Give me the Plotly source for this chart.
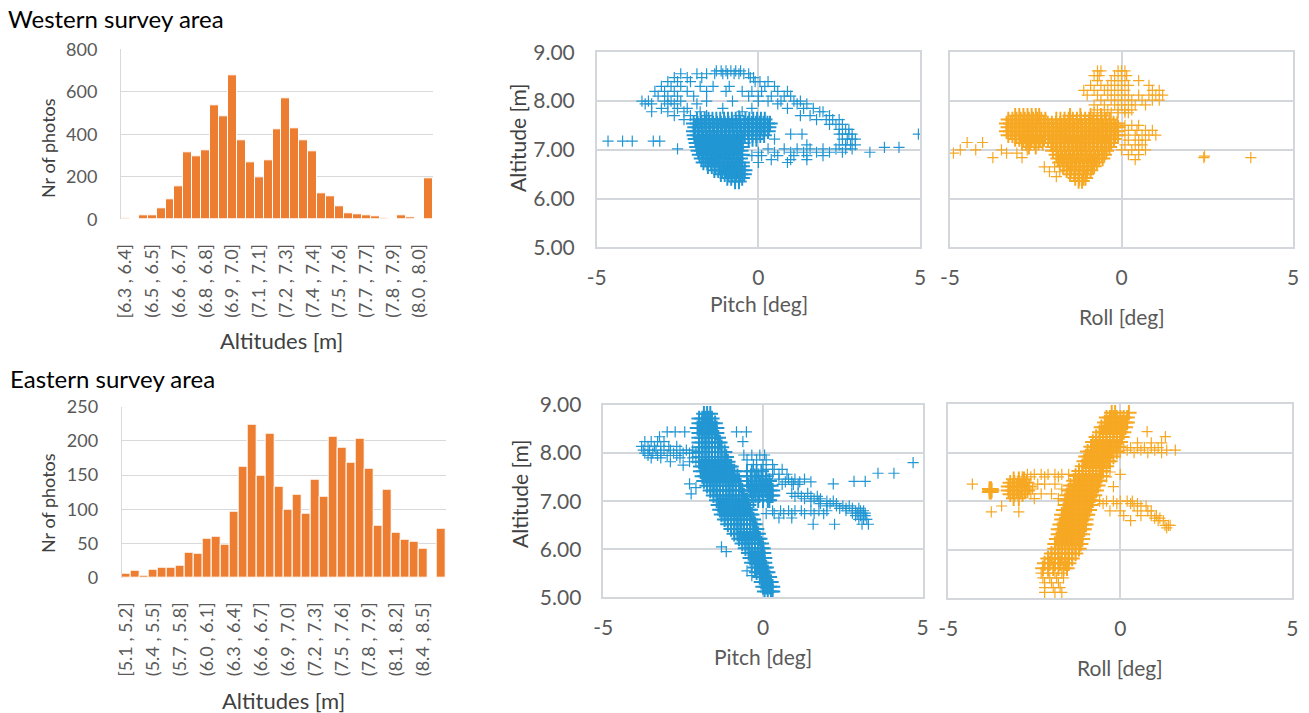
import plotly.graph_objects as go

W, H = 1309, 713
FONT = "Lato"

# ---------------- Histogram data ----------------
west_counts = [5, 1, 17, 17, 50, 94, 154, 315, 295, 326, 536, 483, 676, 372, 267, 199, 278, 424,
               569, 428, 372, 320, 122, 107, 63, 28, 24, 17, 16, 6, 1, 20, 9, 0, 193]
west_ticklabels = ["[6.3 , 6.4]", "(6.5 , 6.5]", "(6.6 , 6.7]", "(6.8 , 6.8]", "(6.9 , 7.0]", "(7.1 , 7.1]",
                   "(7.2 , 7.3]", "(7.4 , 7.4]", "(7.5 , 7.6]", "(7.7 , 7.7]", "(7.8 , 7.9]", "(8.0 , 8.0]"]
east_counts = [6, 10, 3, 12, 15, 14, 18, 37, 35, 57, 60, 48, 96, 163, 223, 149, 211, 133, 99, 121, 93,
               144, 118, 206, 190, 168, 203, 159, 76, 128, 66, 55, 52, 42, 0, 71]
east_ticklabels = ["[5.1 , 5.2]", "(5.4 , 5.5]", "(5.7 , 5.8]", "(6.0 , 6.1]", "(6.3 , 6.4]", "(6.6 , 6.7]",
                   "(6.9 , 7.0]", "(7.2 , 7.3]", "(7.5 , 7.6]", "(7.8 , 7.9]", "(8.1 , 8.2]", "(8.4 , 8.5]"]
angle_ticks = [-5, 0, 5]
angle_ticklabels = ["-5", "0", "5"]

# ---------------- Scatter data: rows of (altitude, [angles]) ----------------
west_pitch_sparse = [
    (8.62, [-1.3, -1.15, -1.0, -0.85, -0.7, -0.55]),
    (8.56, [-2.4, -1.9, -1.6, -1.35, -1.1, -0.95, -0.75, -0.6, -0.45, -0.3]),
    (8.48, [-2.6, -2.2, -1.75, -0.25, -0.15]),
    (8.40, [-2.8, -2.5, -2.1, -0.1, 0.05, 0.3]),
    (8.30, [-3.0, -2.7, -2.4, -1.8, -1.4, -0.9, 0.2, 0.5]),
    (8.20, [-3.2, -2.9, -2.6, -2.2, -1.6, -1.0, -0.5, -0.2, 0.1, 0.6, 0.9]),
    (8.10, [-3.1, -2.8, -2.5, -2.0, -0.3, 0.0, 0.4, 0.8, 1.0]),
    (8.00, [-3.6, -3.4, -2.9, -2.7, -2.4, -1.6, -0.8, 0.0, 0.3, 0.7, 1.1, 1.3]),
    (7.94, [-3.5, -3.3, -2.8, -2.6, -1.9, 0.6, 1.2, 1.5]),
    (7.85, [-3.0, -2.5, -2.2, -1.1, -0.2, 0.9, 1.4, 1.7]),
    (7.78, [-3.3, -2.8, -2.3, -1.8, -0.5, 1.9, 2.0]),
    (7.70, [-2.6, -2.1, -1.6, -0.6, 1.3, 1.6, 2.2]),
    (7.62, [-2.3, 1.8, 2.1, 2.3, 2.5]),
    (7.52, [2.2, 2.4, 2.6]),
    (7.42, [2.5, 2.7, 2.8]),
    (7.32, [1.0, 1.35, 2.5, 2.6, 2.8, 2.9, 4.95]),
    (7.22, [0.5, 2.6, 2.75, 2.9, 3.0]),
    (7.18, [-4.65, -4.2, -3.9, -3.25, -3.05]),
    (7.10, [1.5, 2.5, 2.7, 2.85, 3.0]),
    (7.05, [3.9, 4.35]),
    (7.02, [-2.5, 0.3, 0.8, 1.2, 1.6, 2.0, 2.4, 2.7, 2.9]),
    (6.95, [0.0, 0.5, 1.0, 1.4, 1.8, 2.2, 2.6, 3.45]),
    (6.88, [-0.2, 0.1, 0.6, 1.1, 1.5, 2.0]),
    (6.80, [0.4, 1.0, 1.5]),
    (6.74, [0.0, 0.9]),
]
west_pitch_dense = [
    (7.62, [-1.9, -1.78, -1.66, -1.54, -1.42, -1.3, -1.18, -1.06, -0.94, -0.82, -0.7, -0.58, -0.4, -0.28, -0.16, -0.04, 0.08, 0.2]),
    (7.54, [-2.0, -1.88, -1.76, -1.64, -1.52, -1.4, -1.28, -1.16, -1.04, -0.92, -0.8, -0.68, -0.56, -0.44, -0.32, -0.2, -0.08, 0.04, 0.16, 0.28, 0.36]),
    (7.46, [-1.96, -1.84, -1.72, -1.6, -1.48, -1.36, -1.24, -1.12, -1.0, -0.88, -0.76, -0.64, -0.52, -0.4, -0.28, -0.16, -0.04, 0.08, 0.2, 0.32]),
    (7.38, [-2.0, -1.88, -1.76, -1.64, -1.52, -1.4, -1.28, -1.16, -1.04, -0.92, -0.8, -0.68, -0.56, -0.44, -0.32, -0.2, -0.08, 0.04, 0.16, 0.3]),
    (7.30, [-1.98, -1.86, -1.74, -1.62, -1.5, -1.38, -1.26, -1.14, -1.02, -0.9, -0.78, -0.66, -0.54, -0.42, -0.3, -0.18, -0.06, 0.06, 0.18]),
    (7.22, [-1.95, -1.83, -1.71, -1.59, -1.47, -1.35, -1.23, -1.11, -0.99, -0.87, -0.75, -0.63, -0.51, -0.3, -0.18, -0.06]),
    (7.14, [-1.92, -1.8, -1.68, -1.56, -1.44, -1.32, -1.2, -1.08, -0.96, -0.84, -0.72, -0.6, -0.48]),
    (7.06, [-1.9, -1.78, -1.66, -1.54, -1.42, -1.3, -1.18, -1.06, -0.94, -0.82, -0.7, -0.58, -0.5]),
    (6.98, [-1.86, -1.74, -1.62, -1.5, -1.38, -1.26, -1.14, -1.02, -0.9, -0.78, -0.66, -0.54]),
    (6.90, [-1.82, -1.7, -1.58, -1.46, -1.34, -1.22, -1.1, -0.98, -0.86, -0.74, -0.62, -0.5]),
    (6.82, [-1.76, -1.64, -1.52, -1.4, -1.28, -1.16, -1.04, -0.92, -0.8, -0.68, -0.56]),
    (6.74, [-1.7, -1.58, -1.46, -1.34, -1.22, -1.1, -0.98, -0.86, -0.74, -0.62, -0.5]),
    (6.66, [-1.56, -1.44, -1.32, -1.2, -1.08, -0.96, -0.84, -0.72, -0.6, -0.5]),
    (6.58, [-1.36, -1.24, -1.12, -1.0, -0.88, -0.76, -0.64, -0.52, -0.42]),
    (6.50, [-1.16, -1.04, -0.92, -0.8, -0.68, -0.56, -0.44]),
    (6.42, [-0.96, -0.84, -0.72, -0.6, -0.5]),
    (6.35, [-0.72, -0.6]),
]

west_roll_sparse = [
    (6.93, [-4.9, -3.35, -3.05]),
    (7.00, [-4.7, -4.25, -3.5, -2.75]),
    (7.15, [-4.5, -4.05]),
    (6.84, [-3.75, -2.9, 2.4, 3.77]),
    (6.87, [2.42]),
    (6.65, [-2.25, -1.95]),
    (6.55, [-2.1, -1.8]),
    (6.45, [-1.9]),
    (8.62, [-0.7, -0.6, -0.1, 0.0, 0.1]),
    (8.52, [-0.8, -0.65, -0.2, 0.0, 0.15]),
    (8.42, [-0.7, -0.3, -0.1, 0.1, 0.5]),
    (8.32, [-0.9, -0.6, -0.4, -0.2, 0.0, 0.2, 0.8]),
    (8.22, [-1.1, -0.8, -0.5, -0.3, -0.1, 0.1, 0.9, 1.1]),
    (8.12, [-1.0, -0.7, -0.4, -0.2, 0.0, 0.2, 0.5, 0.8, 1.0, 1.2]),
    (8.02, [-0.6, -0.3, -0.1, 0.1, 0.3, 0.6, 0.9, 1.1]),
    (7.92, [-0.8, -0.5, -0.2, 0.0, 0.2, 0.4, 0.7]),
    (7.82, [-0.7, -0.4, -0.1, 0.1, 0.3]),
    (7.76, [-0.8, -0.5, -0.3, -0.1, 0.1, 0.2]),
    (7.50, [0.1, 0.3, 0.5]),
    (7.40, [0.2, 0.45, 0.7, 0.9]),
    (7.30, [0.1, 0.4, 0.6, 0.8, 1.0]),
    (7.20, [0.2, 0.5, 0.7]),
    (7.10, [0.1, 0.4, 0.6]),
    (7.00, [0.0, 0.3, 0.5, 0.7]),
    (6.90, [0.2, 0.5]),
    (6.80, [0.4]),
]
west_roll_dense = [
    (7.70, [-3.1, -2.98, -2.86, -2.74, -2.62, -2.5, -2.4, -1.5, -1.2, -0.9, -0.6]),
    (7.62, [-3.3, -3.18, -3.06, -2.94, -2.82, -2.7, -2.58, -2.46, -2.34, -2.22, -1.9, -1.78, -1.66, -1.54, -1.42, -1.3, -1.18, -1.06, -0.94, -0.82, -0.7, -0.58, -0.46, -0.34]),
    (7.54, [-3.35, -3.23, -3.11, -2.99, -2.87, -2.75, -2.63, -2.51, -2.39, -2.27, -2.15, -2.03, -1.91, -1.79, -1.67, -1.55, -1.43, -1.31, -1.19, -1.07, -0.95, -0.83, -0.71, -0.59, -0.47, -0.35, -0.23, -0.12]),
    (7.46, [-3.3, -3.18, -3.06, -2.94, -2.82, -2.7, -2.58, -2.46, -2.34, -2.22, -2.1, -1.98, -1.86, -1.74, -1.62, -1.5, -1.38, -1.26, -1.14, -1.02, -0.9, -0.78, -0.66, -0.54, -0.42, -0.3, -0.18, -0.1]),
    (7.38, [-3.35, -3.23, -3.11, -2.99, -2.87, -2.75, -2.63, -2.51, -2.39, -2.27, -2.15, -2.03, -1.91, -1.79, -1.67, -1.55, -1.43, -1.31, -1.19, -1.07, -0.95, -0.83, -0.71, -0.59, -0.47, -0.35, -0.23, -0.12]),
    (7.30, [-3.3, -3.18, -3.06, -2.94, -2.82, -2.7, -2.58, -2.46, -2.34, -2.22, -2.1, -1.98, -1.86, -1.74, -1.62, -1.5, -1.38, -1.26, -1.14, -1.02, -0.9, -0.78, -0.66, -0.54, -0.42, -0.3, -0.18, -0.1]),
    (7.22, [-3.1, -2.98, -2.86, -2.74, -2.62, -2.5, -2.38, -2.26, -2.14, -2.02, -1.9, -1.78, -1.66, -1.54, -1.42, -1.3, -1.18, -1.06, -0.94, -0.82, -0.7, -0.58, -0.46, -0.34, -0.22]),
    (7.14, [-2.9, -2.78, -2.66, -2.54, -2.42, -2.3, -2.05, -1.93, -1.81, -1.69, -1.57, -1.45, -1.33, -1.21, -1.09, -0.97, -0.85, -0.73, -0.61, -0.49, -0.37, -0.3]),
    (7.06, [-2.7, -2.5, -2.0, -1.88, -1.76, -1.64, -1.52, -1.4, -1.28, -1.16, -1.04, -0.92, -0.8, -0.68, -0.56, -0.44, -0.35]),
    (6.98, [-2.0, -1.88, -1.76, -1.64, -1.52, -1.4, -1.28, -1.16, -1.04, -0.92, -0.8, -0.68, -0.56, -0.44]),
    (6.90, [-1.9, -1.78, -1.66, -1.54, -1.42, -1.3, -1.18, -1.06, -0.94, -0.82, -0.7, -0.58, -0.5]),
    (6.82, [-1.85, -1.73, -1.61, -1.49, -1.37, -1.25, -1.13, -1.01, -0.89, -0.77, -0.65, -0.55]),
    (6.74, [-1.8, -1.68, -1.56, -1.44, -1.32, -1.2, -1.08, -0.96, -0.84, -0.72]),
    (6.66, [-1.7, -1.58, -1.46, -1.34, -1.22, -1.1, -0.98, -0.86, -0.8]),
    (6.58, [-1.6, -1.48, -1.36, -1.24, -1.12, -1.0, -0.9]),
    (6.50, [-1.5, -1.38, -1.26, -1.14, -1.02]),
    (6.42, [-1.35, -1.23, -1.11, -1.05]),
    (6.36, [-1.25, -1.15]),
]

east_pitch_dense = [
    (8.82, [-1.85, -1.75, -1.65]),
    (8.72, [-2.0, -1.9, -1.8, -1.7, -1.6]),
    (8.62, [-2.0, -1.9, -1.8, -1.7, -1.6, -1.5]),
    (8.52, [-2.05, -1.95, -1.85, -1.75, -1.65, -1.55, -1.45]),
    (8.42, [-2.0, -1.9, -1.8, -1.7, -1.6, -1.5, -1.45]),
    (8.32, [-2.0, -1.9, -1.8, -1.7, -1.6, -1.5, -1.4]),
    (8.22, [-2.0, -1.9, -1.8, -1.7, -1.6, -1.5, -1.4, -1.35]),
    (8.12, [-2.0, -1.9, -1.8, -1.7, -1.6, -1.5, -1.4, -1.3]),
    (8.02, [-2.0, -1.9, -1.8, -1.7, -1.6, -1.5, -1.4, -1.3, -1.2]),
    (7.92, [-2.0, -1.9, -1.8, -1.7, -1.6, -1.5, -1.4, -1.3, -1.2, -1.15]),
    (7.82, [-2.0, -1.9, -1.8, -1.7, -1.6, -1.5, -1.4, -1.3, -1.2, -1.1]),
    (7.72, [-1.95, -1.85, -1.75, -1.65, -1.55, -1.45, -1.35, -1.25, -1.15, -1.05, -1.0]),
    (7.62, [-1.95, -1.85, -1.75, -1.65, -1.55, -1.45, -1.35, -1.25, -1.15, -1.05, -0.95, -0.9]),
    (7.52, [-1.9, -1.8, -1.7, -1.6, -1.5, -1.4, -1.3, -1.2, -1.1, -1.0, -0.9, -0.8]),
    (7.42, [-1.85, -1.75, -1.65, -1.55, -1.45, -1.35, -1.25, -1.15, -1.05, -0.95, -0.85, -0.75]),
    (7.32, [-1.75, -1.65, -1.55, -1.45, -1.35, -1.25, -1.15, -1.05, -0.95, -0.85, -0.75, -0.7]),
    (7.22, [-1.65, -1.55, -1.45, -1.35, -1.25, -1.15, -1.05, -0.95, -0.85, -0.75, -0.65]),
    (7.12, [-1.55, -1.45, -1.35, -1.25, -1.15, -1.05, -0.95, -0.85, -0.75, -0.65, -0.6]),
    (7.02, [-1.45, -1.35, -1.25, -1.15, -1.05, -0.95, -0.85, -0.75, -0.65, -0.55, -0.5]),
    (6.92, [-1.4, -1.3, -1.2, -1.1, -1.0, -0.9, -0.8, -0.7, -0.6, -0.5, -0.45]),
    (6.82, [-1.35, -1.25, -1.15, -1.05, -0.95, -0.85, -0.75, -0.65, -0.55, -0.45, -0.4]),
    (6.72, [-1.3, -1.2, -1.1, -1.0, -0.9, -0.8, -0.7, -0.6, -0.5, -0.4, -0.35]),
    (6.62, [-1.2, -1.1, -1.0, -0.9, -0.8, -0.7, -0.6, -0.5, -0.4, -0.3]),
    (6.52, [-1.1, -1.0, -0.9, -0.8, -0.7, -0.6, -0.5, -0.4, -0.3, -0.25]),
    (6.42, [-1.0, -0.9, -0.8, -0.7, -0.6, -0.5, -0.4, -0.3, -0.2]),
    (6.32, [-0.9, -0.8, -0.7, -0.6, -0.5, -0.4, -0.3, -0.2, -0.15]),
    (6.22, [-0.75, -0.65, -0.55, -0.45, -0.35, -0.25, -0.15, -0.1]),
    (6.12, [-0.65, -0.55, -0.45, -0.35, -0.25, -0.15, -0.05]),
    (6.02, [-0.55, -0.45, -0.35, -0.25, -0.15, -0.05, 0.0]),
    (5.92, [-0.45, -0.35, -0.25, -0.15, -0.05, 0.02]),
    (5.82, [-0.4, -0.3, -0.2, -0.1, 0.0, 0.05]),
    (5.72, [-0.35, -0.25, -0.15, -0.05, 0.05]),
    (5.62, [-0.25, -0.15, -0.05, 0.05, 0.1]),
    (5.52, [-0.2, -0.1, 0.0, 0.1, 0.15]),
    (5.42, [-0.1, 0.0, 0.1, 0.2]),
    (5.32, [-0.05, 0.05, 0.15, 0.25]),
    (5.22, [0.0, 0.1, 0.2, 0.3]),
    (5.12, [0.05, 0.15, 0.25, 0.3]),
    (7.62, [-0.5, -0.35, -0.2, -0.05]),
    (7.52, [-0.5, -0.38, -0.26, -0.14, -0.02, 0.1]),
    (7.42, [-0.5, -0.38, -0.26, -0.14, -0.02, 0.1, 0.2]),
    (7.32, [-0.45, -0.33, -0.21, -0.09, 0.03, 0.15, 0.25]),
    (7.22, [-0.4, -0.28, -0.16, -0.04, 0.08, 0.2, 0.3]),
    (7.12, [-0.35, -0.23, -0.11, 0.01, 0.13, 0.25, 0.3]),
    (7.02, [-0.3, -0.15, 0.0, 0.15, 0.2]),
]
east_pitch_sparse = [
    (8.44, [-3.0, -2.75, -2.45, -0.83, -0.52]),
    (8.34, [-3.24]),
    (8.24, [-3.7, -3.5, -3.3, -3.1, -0.63]),
    (8.14, [-3.8, -3.6, -3.4, -3.2, -2.95, -2.7]),
    (8.06, [-3.75, -3.55, -3.35, -3.1, -2.9, -2.6, -2.4, -2.2]),
    (8.00, [-3.7, -3.45, -3.2, -2.8, -2.5, -2.3, -2.1]),
    (7.95, [-3.6, -3.3, -3.0, -2.7]),
    (7.90, [-3.5, -3.2, -2.6, -2.2]),
    (7.82, [-2.9, -2.3, -2.1]),
    (7.75, [-2.5]),
    (7.96, [-0.6, -0.35, -0.1, 0.05]),
    (7.86, [-0.5, -0.2, 0.1]),
    (7.76, [-0.3, 0.0, 0.3]),
    (7.66, [0.1, 0.35, 0.6]),
    (7.56, [0.3, 0.5, 0.75]),
    (7.46, [0.5, 0.8, 1.0, 1.3]),
    (7.40, [0.7, 0.9, 1.15, 1.5]),
    (7.35, [0.6, 0.95, 1.1]),
    (7.16, [0.9, 1.1, 1.4]),
    (7.10, [1.0, 1.2, 1.5, 1.7]),
    (7.05, [1.3, 1.6, 1.8]),
    (7.00, [1.5, 1.75, 2.0, 2.2]),
    (6.95, [1.8, 2.1, 2.3]),
    (6.90, [2.0, 2.3, 2.5, 2.7]),
    (6.85, [2.4, 2.6, 2.8, 3.0]),
    (6.80, [2.6, 2.8, 2.9, 3.05, 3.15]),
    (6.75, [2.8, 2.95, 3.1, 3.2]),
    (6.70, [2.9, 3.05, 3.2]),
    (6.62, [3.0, 3.15, 3.25]),
    (6.52, [3.1, 3.3]),
    (6.80, [0.3, 0.55, 0.8, 1.0, 1.2, 1.5, 1.75, 2.0]),
    (6.74, [0.1, 0.35, 0.65, 0.9, 1.3, 1.6, 1.9]),
    (6.65, [0.5, 0.9]),
    (6.52, [1.57, 2.24]),
    (7.36, [2.2, -2.3]),
    (7.41, [2.85, 3.2]),
    (7.58, [3.6, 4.1]),
    (7.80, [4.7]),
    (7.15, [-2.25]),
    (7.28, [-2.1]),
    (6.05, [-1.3]),
    (5.95, [-1.15]),
    (5.45, [-0.35]),
    (5.55, [-0.5]),
]

east_roll_dense = [
    (8.82, [-0.25, -0.15, 0.25]),
    (8.72, [-0.4, -0.3, -0.2, -0.1, 0.0, 0.1, 0.2]),
    (8.62, [-0.45, -0.35, -0.25, -0.15, -0.05, 0.05, 0.15, 0.2]),
    (8.52, [-0.55, -0.45, -0.35, -0.25, -0.15, -0.05, 0.05, 0.15]),
    (8.42, [-0.6, -0.5, -0.4, -0.3, -0.2, -0.1, 0.0, 0.1]),
    (8.32, [-0.7, -0.6, -0.5, -0.4, -0.3, -0.2, -0.1, 0.0, 0.05]),
    (8.22, [-0.8, -0.7, -0.6, -0.5, -0.4, -0.3, -0.2, -0.1, 0.0]),
    (8.12, [-0.85, -0.75, -0.65, -0.55, -0.45, -0.35, -0.25, -0.15, -0.05]),
    (8.02, [-0.95, -0.85, -0.75, -0.65, -0.55, -0.45, -0.35, -0.25, -0.1]),
    (7.92, [-1.0, -0.9, -0.8, -0.7, -0.6, -0.5, -0.4, -0.3, -0.2]),
    (7.82, [-1.05, -0.95, -0.85, -0.75, -0.65, -0.55, -0.45, -0.35, -0.3]),
    (7.72, [-1.1, -1.0, -0.9, -0.8, -0.7, -0.6, -0.5, -0.4]),
    (7.62, [-1.2, -1.1, -1.0, -0.9, -0.8, -0.7, -0.6, -0.5]),
    (7.52, [-1.3, -1.2, -1.1, -1.0, -0.9, -0.8, -0.7, -0.6, -0.55]),
    (7.42, [-1.35, -1.25, -1.15, -1.05, -0.95, -0.85, -0.75, -0.65, -0.6]),
    (7.32, [-1.45, -1.35, -1.25, -1.15, -1.05, -0.95, -0.85, -0.75, -0.65]),
    (7.22, [-1.5, -1.4, -1.3, -1.2, -1.1, -1.0, -0.9, -0.8, -0.7]),
    (7.12, [-1.55, -1.45, -1.35, -1.25, -1.15, -1.05, -0.95, -0.85, -0.75]),
    (7.02, [-1.6, -1.5, -1.4, -1.3, -1.2, -1.1, -1.0, -0.9, -0.8]),
    (6.92, [-1.6, -1.5, -1.4, -1.3, -1.2, -1.1, -1.0, -0.9, -0.85]),
    (6.82, [-1.65, -1.55, -1.45, -1.35, -1.25, -1.15, -1.05, -0.95, -0.9]),
    (6.72, [-1.7, -1.6, -1.5, -1.4, -1.3, -1.2, -1.1, -1.0, -0.95]),
    (6.62, [-1.7, -1.6, -1.5, -1.4, -1.3, -1.2, -1.1, -1.0]),
    (6.52, [-1.75, -1.65, -1.55, -1.45, -1.35, -1.25, -1.15, -1.05, -1.0]),
    (6.42, [-1.8, -1.7, -1.6, -1.5, -1.4, -1.3, -1.2, -1.1, -1.05]),
    (6.32, [-1.8, -1.7, -1.6, -1.5, -1.4, -1.3, -1.2, -1.1]),
    (6.22, [-1.85, -1.75, -1.65, -1.55, -1.45, -1.35, -1.25, -1.15, -1.1]),
    (6.12, [-1.9, -1.8, -1.7, -1.6, -1.5, -1.4, -1.3, -1.2, -1.15]),
    (6.02, [-1.9, -1.8, -1.7, -1.6, -1.5, -1.4, -1.3, -1.2]),
    (5.92, [-2.0, -1.9, -1.8, -1.7, -1.6, -1.5, -1.4, -1.3]),
    (5.82, [-2.1, -2.0, -1.9, -1.8, -1.7, -1.6, -1.5, -1.4]),
    (5.72, [-2.2, -2.05, -1.9, -1.75, -1.6, -1.5]),
    (5.62, [-2.25, -2.1, -1.95, -1.8, -1.65, -1.55]),
    (7.45, [-3.1, -2.95, -2.8]),
    (7.38, [-3.2, -3.08, -2.96, -2.84, -2.72]),
    (7.30, [-3.25, -3.13, -3.01, -2.89, -2.77, -2.65]),
    (7.22, [-3.25, -3.13, -3.01, -2.89, -2.77, -2.7, -3.78, -3.74]),
    (7.14, [-3.2, -3.08, -2.96, -2.84]),
    (7.06, [-3.1, -2.95]),
    (7.25, [-3.8, -3.76]),
    (7.19, [-3.8, -3.76]),
]
east_roll_sparse = [
    (5.52, [-2.3, -2.1, -1.9, -1.7]),
    (5.42, [-2.25, -2.05, -1.85, -1.65]),
    (5.32, [-2.2, -2.0, -1.8]),
    (5.22, [-2.2, -1.95, -1.75]),
    (5.12, [-2.2, -1.9, -1.7]),
    (7.25, [-2.55, -1.7]),
    (7.55, [-2.7, -2.5, -2.3, -2.1, -1.9, -1.7, -1.5, 0.0]),
    (7.50, [-2.85, -2.6, -2.2, -1.8, -0.4]),
    (7.15, [-2.6, -2.3, -2.0]),
    (7.05, [-1.8, -2.5]),
    (7.35, [-2.4, -2.2, -1.9, -4.3]),
    (6.90, [-3.45]),
    (6.78, [-3.75, -2.95]),
    (8.43, [0.78]),
    (8.33, [1.31]),
    (8.20, [0.5, 0.9, 1.2]),
    (8.10, [0.1, 0.3, 0.5, 0.7, 0.9, 1.1]),
    (8.05, [0.2, 0.6, 1.0, 1.35, 1.6]),
    (8.00, [0.0, 0.4, 0.8, 1.2]),
    (7.00, [-0.6, -0.4, -0.2, 0.0, 0.2, 0.35]),
    (6.95, [-0.5, -0.1, 0.3, 0.5]),
    (6.90, [0.4, 0.6, 0.75]),
    (6.80, [-0.3, 0.0, 0.5, 0.8, 0.9]),
    (6.70, [0.1, 0.6, 0.9, 1.05]),
    (6.65, [1.0, 1.15]),
    (6.60, [0.3, 1.1, 1.25]),
    (6.50, [1.3, 1.4, 1.45]),
    (6.45, [1.35]),
    (7.30, [-0.2]),
    (7.60, [-0.3]),
]

BLUE = "#2196D3"
ORANGE = "#F7A823"
BAR = "#ED7D31"
GRID = "#D3D6DA"
TICK = "#595959"
TITLE = "#404040"


def flatten(rows):
    xs, ys = [], []
    for alt, angles in rows:
        for a in angles:
            xs.append(a)
            ys.append(alt)
    return xs, ys


def fx(px):
    return px / W


def fy(py):
    return 1 - py / H


fig = go.Figure()

# Histograms
fig.add_trace(go.Bar(x=list(range(len(west_counts))), y=west_counts,
                     marker=dict(color=BAR, line=dict(color="white", width=1)),
                     xaxis="x", yaxis="y", showlegend=False))
fig.add_trace(go.Bar(x=list(range(len(east_counts))), y=east_counts,
                     marker=dict(color=BAR, line=dict(color="white", width=1)),
                     xaxis="x2", yaxis="y2", showlegend=False))

# Scatters
panels = [(west_pitch_sparse, west_pitch_dense, BLUE, "x3", "y3"),
          (west_roll_sparse, west_roll_dense, ORANGE, "x4", "y4"),
          (east_pitch_sparse, east_pitch_dense, BLUE, "x5", "y5"),
          (east_roll_sparse, east_roll_dense, ORANGE, "x6", "y6")]
for sparse, dense, color, xa, ya in panels:
    xs, ys = flatten(dense)
    fig.add_trace(go.Scatter(x=xs, y=ys, mode="markers", xaxis=xa, yaxis=ya, showlegend=False,
                             marker=dict(symbol="cross-thin", size=11, color=color, line=dict(color=color, width=2))))
    xs, ys = flatten(sparse)
    fig.add_trace(go.Scatter(x=xs, y=ys, mode="markers", xaxis=xa, yaxis=ya, showlegend=False,
                             marker=dict(symbol="cross-thin", size=8, color=color, line=dict(color=color, width=1.2))))

hist_x_common = dict(tickangle=-90, showgrid=False, zeroline=False, showline=False, ticks="", automargin=False,
                     tickfont=dict(family=FONT, size=18, color=TICK), ticklabelstandoff=20)
hist_y_common = dict(showgrid=True, gridcolor="#D9D9D9", gridwidth=1, zeroline=False, showline=True, automargin=False,
                     linecolor="#D9D9D9", linewidth=1, ticks="", tickfont=dict(family=FONT, size=18, color=TICK),
                     ticklabelstandoff=19)
sc_x_common = dict(range=[-5, 5], tickvals=angle_ticks, ticktext=angle_ticklabels, showgrid=True, gridcolor=GRID,
                   gridwidth=1.5, zeroline=False, automargin=False,
                   showline=True, mirror=True, linecolor=GRID, linewidth=1.5, ticks="",
                   tickfont=dict(family=FONT, size=21, color=TICK), ticklabelstandoff=11)
sc_y_common = dict(range=[5, 9], dtick=1, tickformat=".2f", showgrid=True, gridcolor=GRID, gridwidth=1.5,
                   zeroline=False, showline=True, mirror=True, linecolor=GRID, linewidth=1.5, ticks="",
                   automargin=False, tickfont=dict(family=FONT, size=21, color=TICK), ticklabelstandoff=16)

fig.update_layout(
    width=W, height=H, autosize=False, margin=dict(l=0, r=0, t=0, b=0, pad=0),
    paper_bgcolor="white", plot_bgcolor="white", bargap=0,
    font=dict(family=FONT),
    xaxis=dict(domain=[fx(121), fx(433)], range=[-0.5, len(west_counts) - 0.5], anchor="y",
               tickvals=list(range(0, len(west_counts), 3))[:len(west_ticklabels)], ticktext=west_ticklabels,
               **hist_x_common),
    yaxis=dict(domain=[fy(219.3), fy(49.3)], range=[0, 800], dtick=200, anchor="x", **hist_y_common),
    xaxis2=dict(domain=[fx(121.7), fx(446)], range=[-0.5, len(east_counts) - 0.5], anchor="y2",
                tickvals=list(range(0, len(east_counts), 3))[:len(east_ticklabels)], ticktext=east_ticklabels,
                **hist_x_common),
    yaxis2=dict(domain=[fy(577.7), fy(406.7)], range=[0, 250], dtick=50, anchor="x2", **hist_y_common),
    xaxis3=dict(domain=[fx(596.7), fx(920)], anchor="y3", **sc_x_common),
    yaxis3=dict(domain=[fy(247.3), fy(52.3)], anchor="x3", **sc_y_common),
    xaxis4=dict(domain=[fx(950), fx(1293)], anchor="y4", **sc_x_common),
    yaxis4=dict(domain=[fy(247.3), fy(52.3)], anchor="x4", showticklabels=False, **sc_y_common),
    xaxis5=dict(domain=[fx(603.3), fx(922.7)], anchor="y5", **sc_x_common),
    yaxis5=dict(domain=[fy(597.3), fy(405)], anchor="x5", **sc_y_common),
    xaxis6=dict(domain=[fx(948.3), fx(1292.3)], anchor="y6", **sc_x_common),
    yaxis6=dict(domain=[fy(598.3), fy(404)], anchor="x6", showticklabels=False, **sc_y_common),
)


def ann(text, px, py, size, color, angle=0, xanchor="center", yanchor="middle"):
    fig.add_annotation(text=text, x=fx(px), y=fy(py), xref="paper", yref="paper", showarrow=False,
                       textangle=angle, xanchor=xanchor, yanchor=yanchor,
                       font=dict(family=FONT, size=size, color=color))


ann("Western survey area", 6, 19, 24, "black", xanchor="left")
ann("Eastern survey area", 8, 378, 24, "black", xanchor="left")
ann("Nr of photos", 48, 148, 18, TITLE, angle=-90)
ann("Nr of photos", 48, 503, 18, TITLE, angle=-90)
ann("Altitudes [m]", 281, 340, 22, TITLE)
ann("Altitudes [m]", 283, 700, 22, TITLE)
ann("Altitude [m]", 517, 138, 21, TITLE, angle=-90)
ann("Altitude [m]", 519, 494, 21, TITLE, angle=-90)
ann("Pitch [deg]", 759, 303, 21, TICK)
ann("Pitch [deg]", 763, 656, 21, TICK)
ann("Roll [deg]", 1122, 316, 21, TICK)
ann("Roll [deg]", 1120, 667, 21, TICK)

fig.write_html("out.html", config={"displayModeBar": False},
               post_script="document.body.style.margin='0px';document.body.style.overflow='hidden';")
